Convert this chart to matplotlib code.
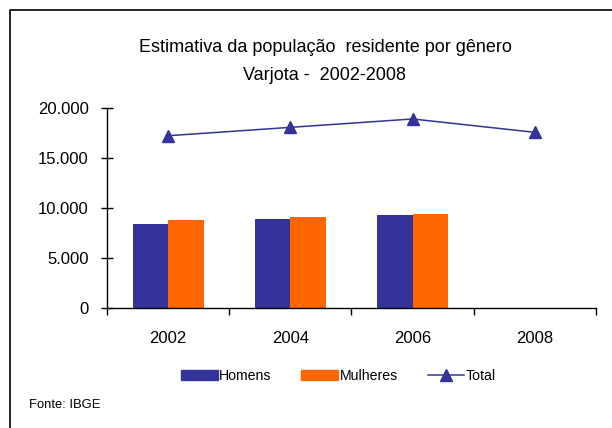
import matplotlib.pyplot as plt
from matplotlib.lines import Line2D
from matplotlib.patches import Patch
from matplotlib.ticker import FixedLocator, FuncFormatter

anos = ['2002', '2004', '2006', '2008']
homens = [8420, 8920, 9320, 0]
mulheres = [8820, 9120, 9420, 0]
total = [17270, 18110, 18950, 17610]

azul = '#333399'
laranja = '#FF6600'

plt.rcParams['font.family'] = ['Liberation Sans', 'DejaVu Sans']

fig = plt.figure(figsize=(6.12, 4.28), dpi=100)
ax = fig.add_axes([0.1748, 0.2804, 0.799, 0.4661])

x = list(range(len(anos)))
w = 0.29
ax.bar([i - w / 2 for i in x], homens, width=w, color=azul, label='Homens')
ax.bar([i + w / 2 for i in x], mulheres, width=w, color=laranja, label='Mulheres')
ax.plot(x, total, color=azul, lw=1.1, marker='^', markersize=8, label='Total')

ax.set_xlim(-0.5, 3.5)
ax.set_ylim(0, 20000)
ax.set_yticks([0, 5000, 10000, 15000, 20000])
ax.yaxis.set_major_formatter(FuncFormatter(lambda v, p: f'{int(v):,}'.replace(',', '.')))

ax.xaxis.set_major_locator(FixedLocator([-0.5, 0.5, 1.5, 2.5, 3.5]))
ax.xaxis.set_minor_locator(FixedLocator(x))
ax.set_xticklabels([], minor=False)
ax.set_xticklabels(anos, minor=True)
ax.tick_params(axis='x', which='major', direction='out', length=5, width=1, color='black')
ax.tick_params(axis='x', which='minor', length=0, pad=16.8, labelsize=12)
ax.tick_params(axis='y', direction='inout', length=9, width=1, pad=8.5, labelsize=12)

for s in ['top', 'right']:
    ax.spines[s].set_visible(False)
ax.spines['left'].set_linewidth(1)
ax.spines['bottom'].set_linewidth(1)

fig.text(0.532, 1 - 47 / 428, 'Estimativa da população  residente por gênero',
         ha='center', va='center', fontsize=13)
fig.text(0.530, 1 - 75 / 428, 'Varjota -  2002-2008', ha='center', va='center', fontsize=13)

handles = [Patch(color=azul), Patch(color=laranja),
           Line2D([], [], color=azul, lw=1.1, marker='^', markersize=8)]
fig.legend(handles, ['Homens', 'Mulheres', 'Total'], loc='center',
           bbox_to_anchor=(0.553, 1 - 376 / 428), ncol=3, frameon=False, fontsize=10.2,
           handlelength=2.6, handleheight=0.77, handletextpad=0.1, columnspacing=2.1)

fig.text(29 / 612, 1 - 405 / 428, 'Fonte: IBGE', ha='left', va='center', fontsize=9.4)

fig.add_artist(Line2D([10 / 612, 10 / 612, 1], [0, 1 - 10 / 428, 1 - 10 / 428],
                      color='black', lw=1.2, transform=fig.transFigure))

fig.savefig('out.png', dpi=100)
